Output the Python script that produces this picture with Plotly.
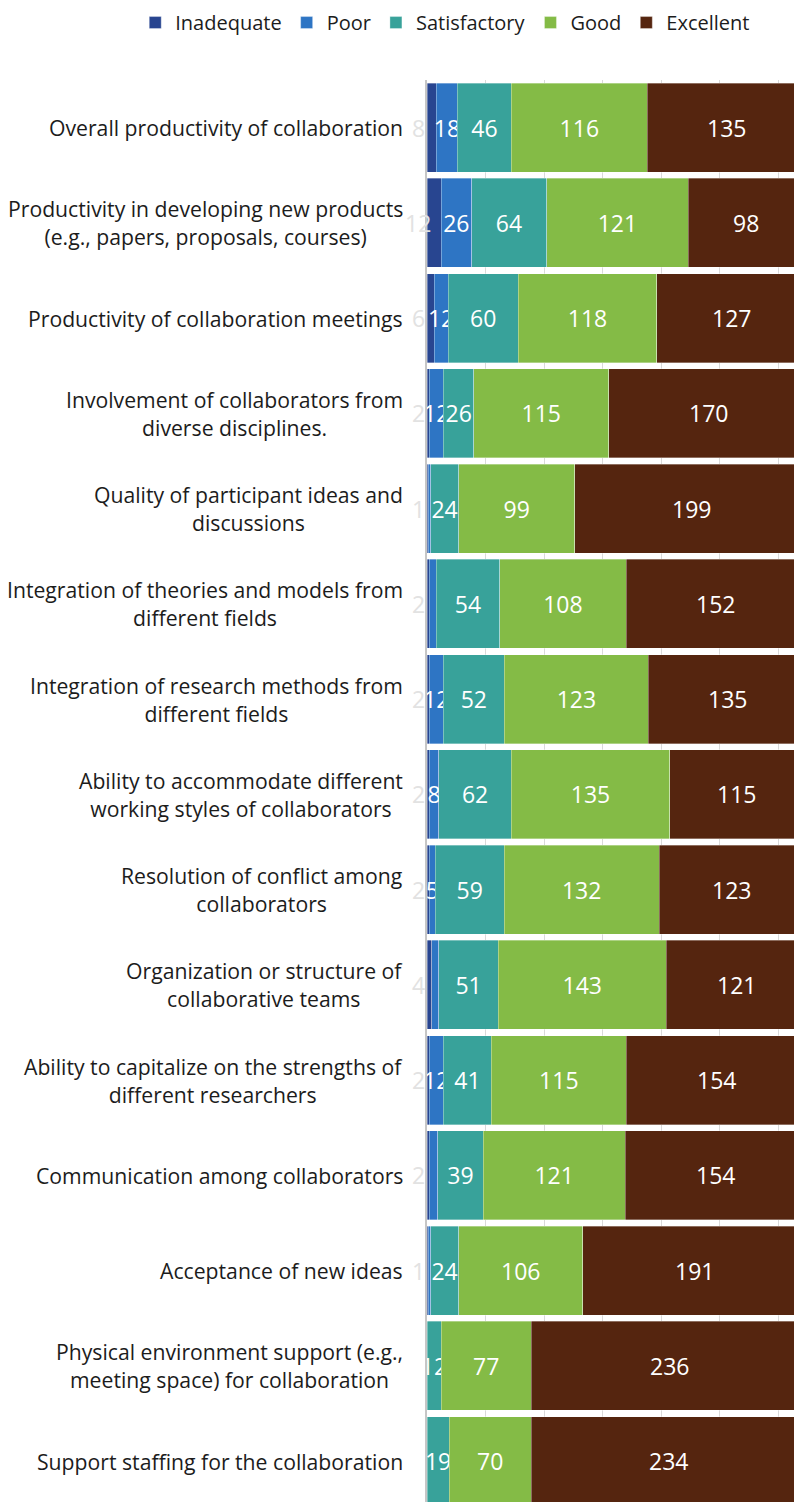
import plotly.graph_objects as go

# Survey ratings of collaboration aspects (number of respondents per rating)
categories = [
    "Overall productivity of collaboration",
    "Productivity in developing new products<br>(e.g., papers, proposals, courses)",
    "Productivity of collaboration meetings",
    "Involvement of collaborators from<br>diverse disciplines.",
    "Quality of participant ideas and<br>discussions",
    "Integration of theories and models from<br>different fields",
    "Integration of research methods from<br>different fields",
    "Ability to accommodate different<br>working styles of collaborators",
    "Resolution of conflict among<br>collaborators",
    "Organization or structure of<br>collaborative teams",
    "Ability to capitalize on the strengths of<br>different researchers",
    "Communication among collaborators",
    "Acceptance of new ideas",
    "Physical environment support (e.g.,<br>meeting space) for collaboration",
    "Support staffing for the collaboration",
]
ratings = ["Inadequate", "Poor", "Satisfactory", "Good", "Excellent"]

inadequate = [8, 12, 6, 2, 1, 2, 2, 2, 2, 4, 2, 2, 1, 0, 0]
poor = [18, 26, 12, 12, 2, 6, 12, 8, 5, 6, 12, 7, 2, 0, 0]
satisfactory = [46, 64, 60, 26, 24, 54, 52, 62, 59, 51, 41, 39, 24, 12, 19]
good = [116, 121, 118, 115, 99, 108, 123, 135, 132, 143, 115, 121, 106, 77, 70]
excellent = [135, 98, 127, 170, 199, 152, 135, 115, 123, 121, 154, 154, 191, 236, 234]

# which "Poor" counts carry a data label
poor_labelled = [True, True, True, True, False, False, True, True, True,
                 False, True, False, False, False, False]

colors = {
    "Inadequate": "#284590",
    "Poor": "#2e75c4",
    "Satisfactory": "#38a29a",
    "Good": "#84bb46",
    "Excellent": "#55250f",
}

FONT = "Open Sans"
LABEL_SIZE = 23
CAT_SIZE = 21.2
LEGEND_SIZE = 20
X_MAX = 313.2  # the Excellent segments run past the right edge of the view

series = {
    "Inadequate": inadequate,
    "Poor": poor,
    "Satisfactory": satisfactory,
    "Good": good,
    "Excellent": excellent,
}


def bar_labels(name, values):
    if name in ("Inadequate", "Excellent"):
        return ["" for _ in values]
    if name == "Poor":
        return [str(v) if (v and show) else "" for v, show in zip(values, poor_labelled)]
    return [str(v) if v else "" for v in values]


fig = go.Figure()
for name in ratings:
    vals = series[name]
    fig.add_trace(go.Bar(
        name=name,
        y=categories,
        x=vals,
        orientation="h",
        marker=dict(color=colors[name], line=dict(color="rgba(255,255,255,0.45)", width=0.75)),
        text=bar_labels(name, vals),
        textposition="inside",
        insidetextanchor="middle",
        constraintext="none",
        textangle=0,
        textfont=dict(family=FONT, size=LABEL_SIZE, color="white"),
        hoverinfo="skip",
    ))

# Excellent labels sit at the centre of the whole segment, even where it is cut by the view
for cat, a, b, c, d, e in zip(categories, inadequate, poor, satisfactory, good, excellent):
    start = a + b + c + d
    fig.add_annotation(
        x=start + e / 2, y=cat, xref="x", yref="y",
        text=str(e), showarrow=False,
        xanchor="center", yanchor="middle",
        font=dict(family=FONT, size=LABEL_SIZE, color="white"),
    )

# faint labels for the "Inadequate" counts, just left of the axis
for cat, v in zip(categories, inadequate):
    if v:
        fig.add_annotation(
            x=0, y=cat, xref="x", yref="y",
            text=str(v), showarrow=False,
            xanchor="center", yanchor="middle", xshift=-9,
            font=dict(family=FONT, size=LABEL_SIZE, color="#e2e2e2"),
        )

# category labels: right edge at the axis, lines centred
for cat in categories:
    fig.add_annotation(
        x=0, y=cat, xref="x", yref="y",
        text=cat, showarrow=False,
        xanchor="right", yanchor="middle", align="center",
        xshift=-22,
        font=dict(family=FONT, size=CAT_SIZE, color="#1c1c1c"),
    )

fig.update_layout(
    width=794,
    height=1502,
    barmode="stack",
    bargap=0.065,
    plot_bgcolor="white",
    paper_bgcolor="white",
    margin=dict(l=427, r=0, t=79.5, b=0),
    font=dict(family=FONT, color="#1c1c1c"),
    showlegend=True,
    legend=dict(
        orientation="h",
        xref="paper", yref="paper",
        x=-0.795, y=1.0404,
        xanchor="left", yanchor="middle",
        font=dict(family=FONT, size=LEGEND_SIZE, color="#1c1c1c"),
        itemwidth=30,
        traceorder="normal",
        bgcolor="rgba(0,0,0,0)",
    ),
    xaxis=dict(
        range=[0, X_MAX],
        dtick=50,
        showgrid=True,
        gridcolor="#d9d9d9",
        gridwidth=1,
        zeroline=False,
        showticklabels=False,
        fixedrange=True,
    ),
    yaxis=dict(
        type="category",
        categoryorder="array",
        categoryarray=categories,
        range=[14.43, -0.5],
        showticklabels=False,
        showgrid=False,
        showline=True,
        linecolor="#c6c6c6",
        linewidth=1.5,
        zeroline=False,
        fixedrange=True,
    ),
)

fig.write_html("out.html")
